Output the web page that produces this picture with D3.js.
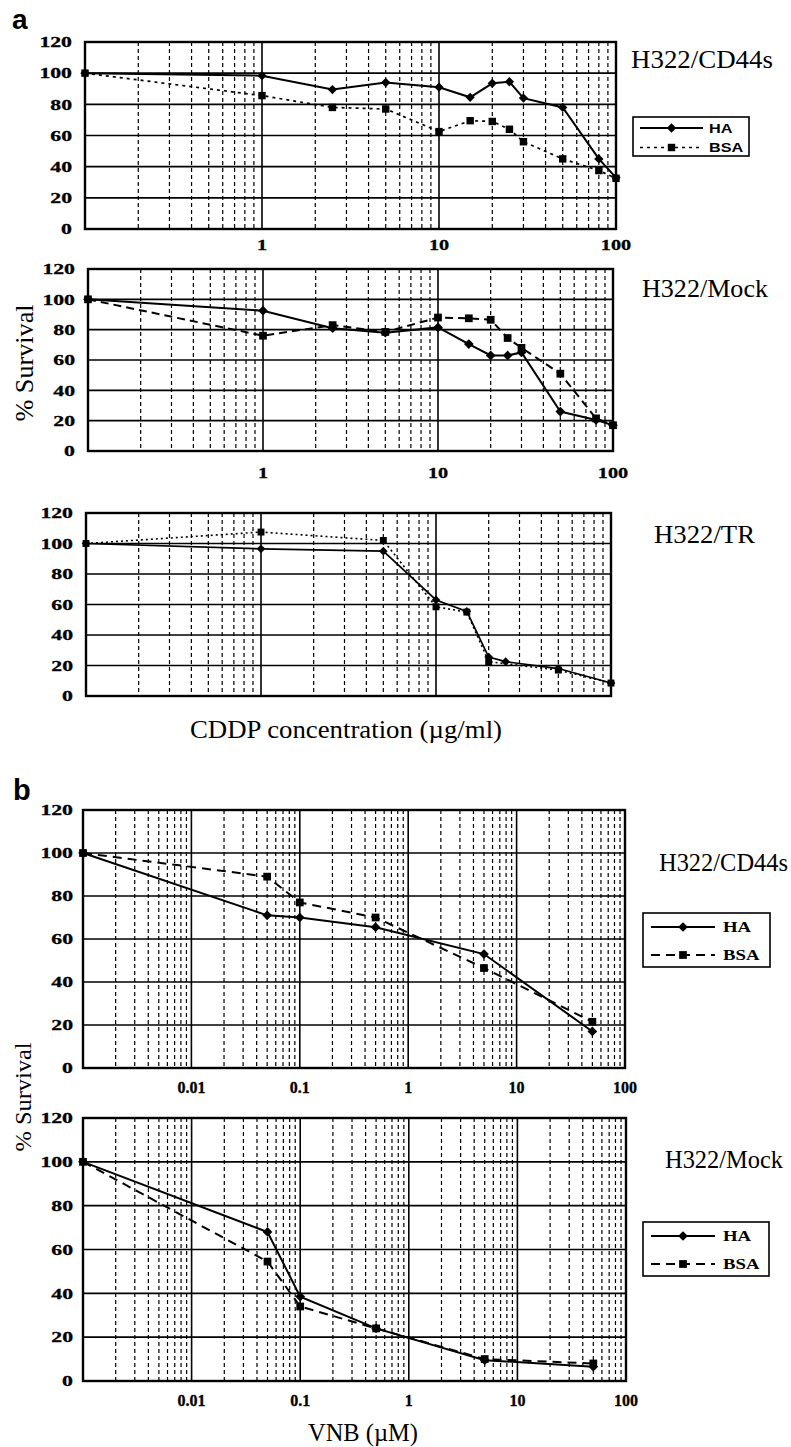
<!DOCTYPE html>
<html><head><meta charset="utf-8">
<script src="https://cdn.jsdelivr.net/npm/d3@7"></script>
<style>body{margin:0;background:#fff}svg{display:block}</style>
</head><body>
<svg id="c" width="791" height="1447"></svg>
<script>
// ---------- DATA ----------
const yTicks = [0, 20, 40, 60, 80, 100, 120];
const aXTickLabels = ["1", "10", "100"];
const bXTickLabels = ["0.01", "0.1", "1", "10", "100"];
const seriesNames = ["HA", "BSA"];

// Panel a: CDDP concentration (µg/ml)
const a1Conc = [0.1, 1, 2.5, 5, 10, 15, 20, 25, 30, 50, 80, 100];
const a1HA   = [100, 98.4, 89.5, 94, 91, 84.5, 93.5, 94.5, 84, 78, 45, 33];
const a1BSA  = [100, 85.6, 78, 77, 62.5, 69.5, 69, 64, 56, 45, 37.5, 32.5];

const a2Conc = [0.1, 1, 2.5, 5, 10, 15, 20, 25, 30, 50, 80, 100];
const a2HA   = [100, 92.5, 81, 78, 81.5, 70.5, 63, 63, 65, 26, 20.5, 17];
const a2BSA  = [100, 76, 83, 78.5, 88, 87.5, 86.5, 74.5, 68, 51, 21.5, 17];

const a3ConcHA  = [0.1, 1, 5, 10, 15, 20, 25, 50, 100];
const a3HA      = [100, 96.5, 95, 63, 55.5, 25.5, 22.5, 18, 8.5];
const a3ConcBSA = [0.1, 1, 5, 10, 15, 20, 50, 100];
const a3BSA     = [100, 107.5, 102, 58.5, 55, 22.5, 17, 8.5];

// Panel b: VNB (µM)
const bConc = [0.001, 0.05, 0.1, 0.5, 5, 50];
const b1HA  = [100, 71, 70, 65.5, 53, 17];
const b1BSA = [100, 89, 77, 70, 46.5, 21.5];
const b2HA  = [100, 68, 38.5, 24, 9.5, 6.5];
const b2BSA = [100, 54.5, 34, 24, 10, 8];

// ---------- DRAW ----------
const svg = d3.select("#c");
const SERIF = "'Liberation Serif','Times New Roman',serif";
const SANS = "'Liberation Sans',Arial,sans-serif";

function panel(p) {
  const x = d3.scaleLog().domain(p.xDomain).range([p.L, p.R]);
  const y = d3.scaleLinear().domain([0, 120]).range([p.B, p.T]);
  const g = svg.append("g");
  const d0 = Math.round(Math.log10(p.xDomain[0])), d1 = Math.round(Math.log10(p.xDomain[1]));
  const minor = [], major = [];
  for (let d = d0; d < d1; d++) {
    for (let k = 2; k <= 9; k++) minor.push(k * Math.pow(10, d));
    if (d > d0) major.push(Math.pow(10, d));
  }
  g.selectAll(".mn").data(minor).enter().append("line")
    .attr("x1", d => x(d)).attr("x2", d => x(d)).attr("y1", p.T).attr("y2", p.B)
    .attr("stroke", "#000").attr("stroke-width", 1.2).attr("stroke-dasharray", "4,3");
  g.selectAll(".mj").data(major).enter().append("line")
    .attr("x1", d => x(d)).attr("x2", d => x(d)).attr("y1", p.T).attr("y2", p.B)
    .attr("stroke", "#000").attr("stroke-width", 1.6);
  g.selectAll(".hz").data(yTicks.slice(1, -1)).enter().append("line")
    .attr("x1", p.L).attr("x2", p.R).attr("y1", d => y(d)).attr("y2", d => y(d))
    .attr("stroke", "#000").attr("stroke-width", 1.7);
  g.append("rect").attr("x", p.L).attr("y", p.T).attr("width", p.R - p.L).attr("height", p.B - p.T)
    .attr("fill", "none").attr("stroke", "#000").attr("stroke-width", 2.4);
  g.selectAll(".yl").data(yTicks).enter().append("text")
    .attr("transform", d => `translate(${p.L - p.yGap},${y(d)}) scale(1.45,1)`)
    .attr("dy", "0.35em").attr("text-anchor", "end")
    .attr("font-family", SERIF).attr("font-weight", "bold").attr("font-size", 15)
    .attr("stroke", "#000").attr("stroke-width", 0.3)
    .text(d => d);
  if (p.xLabels) {
    g.selectAll(".xl").data(p.xLabels).enter().append("text")
      .attr("transform", d => `translate(${x(+d)},${p.xLabelY}) scale(${p.xScale},1)`)
      .attr("dy", "0.35em").attr("text-anchor", "middle")
      .attr("font-family", SERIF).attr("font-weight", "bold").attr("font-size", p.xFont)
      .attr("stroke", "#000").attr("stroke-width", 0.3)
      .text(d => d);
  }
  p.series.forEach(s => {
    const pts = s.conc.map((c, i) => [c, s.vals[i]]);
    g.append("path").datum(pts)
      .attr("d", d3.line().x(d => x(d[0])).y(d => y(d[1])))
      .attr("fill", "none").attr("stroke", "#000").attr("stroke-width", s.width)
      .attr("stroke-dasharray", s.dash || null);
    g.selectAll(null).data(pts).enter().append("path")
      .attr("transform", d => `translate(${x(d[0])},${y(d[1])})`)
      .attr("d", d3.symbol().type(s.sym).size(s.size))
      .attr("fill", "#000");
  });
  svg.append("text").attr("x", p.titleX).attr("y", p.titleY)
    .attr("font-family", SERIF).attr("font-size", p.titleFont)
    .attr("textLength", p.titleW).attr("lengthAdjust", "spacingAndGlyphs")
    .text(p.title);
  if (p.legend) {
    const lg = p.legend;
    svg.append("rect").attr("x", lg.x).attr("y", lg.y).attr("width", lg.w).attr("height", lg.h)
      .attr("fill", "#fff").attr("stroke", "#000").attr("stroke-width", 1.6);
    p.series.forEach((s, i) => {
      const yy = lg.rows[i];
      svg.append("line").attr("x1", lg.l1).attr("x2", lg.l2).attr("y1", yy).attr("y2", yy)
        .attr("stroke", "#000").attr("stroke-width", s.width).attr("stroke-dasharray", s.dash || null);
      svg.append("path").attr("transform", `translate(${(lg.l1 + lg.l2) / 2},${yy})`)
        .attr("d", d3.symbol().type(s.sym).size(s.size)).attr("fill", "#000");
      svg.append("text").attr("transform", `translate(${lg.tx},${yy}) scale(${lg.sx},1)`)
        .attr("dy", "0.36em").attr("font-family", lg.font).attr("font-weight", "bold")
        .attr("font-size", lg.fs).text(seriesNames[i]);
    });
  }
}

const DIA = d3.symbolDiamond2, SQ = d3.symbolSquare;

panel({ L: 85, R: 616, T: 42, B: 229, xDomain: [0.1, 100], yGap: 13,
  xLabels: aXTickLabels, xLabelY: 245, xFont: 15, xScale: 1.35,
  title: "H322/CD44s", titleX: 631, titleY: 68, titleFont: 26, titleW: 142,
  series: [
    { conc: a1Conc, vals: a1HA, sym: DIA, size: 55, width: 2 },
    { conc: a1Conc, vals: a1BSA, sym: SQ, size: 55, width: 1.7, dash: "3,4" }],
  legend: { x: 633, y: 117, w: 116, h: 39, rows: [128, 147.5], l1: 640, l2: 703, tx: 709, sx: 1.3,
    font: SANS, fs: 12.5 } });

panel({ L: 88, R: 613, T: 269, B: 451, xDomain: [0.1, 100], yGap: 13,
  xLabels: aXTickLabels, xLabelY: 473, xFont: 15, xScale: 1.35,
  title: "H322/Mock", titleX: 642, titleY: 297, titleFont: 26, titleW: 126,
  series: [
    { conc: a2Conc, vals: a2HA, sym: DIA, size: 60, width: 2 },
    { conc: a2Conc, vals: a2BSA, sym: SQ, size: 60, width: 2, dash: "8,5" }] });

panel({ L: 86, R: 611, T: 513, B: 696, xDomain: [0.1, 100], yGap: 13,
  title: "H322/TR", titleX: 654, titleY: 543, titleFont: 26, titleW: 101,
  series: [
    { conc: a3ConcHA, vals: a3HA, sym: DIA, size: 48, width: 1.7 },
    { conc: a3ConcBSA, vals: a3BSA, sym: SQ, size: 48, width: 1.6, dash: "2,3" }] });

panel({ L: 83, R: 625, T: 810, B: 1068, xDomain: [0.001, 100], yGap: 10,
  xLabels: bXTickLabels, xLabelY: 1087, xFont: 16, xScale: 1,
  title: "H322/CD44s", titleX: 659, titleY: 871, titleFont: 25, titleW: 129,
  series: [
    { conc: bConc, vals: b1HA, sym: DIA, size: 60, width: 2 },
    { conc: bConc, vals: b1BSA, sym: SQ, size: 60, width: 2, dash: "9,6" }],
  legend: { x: 643, y: 913, w: 127, h: 54, rows: [927, 955], l1: 651, l2: 715, tx: 723, sx: 1.25,
    font: SERIF, fs: 15 } });

panel({ L: 83, R: 626, T: 1118, B: 1381, xDomain: [0.001, 100], yGap: 10,
  xLabels: bXTickLabels, xLabelY: 1400, xFont: 16, xScale: 1,
  title: "H322/Mock", titleX: 665, titleY: 1168, titleFont: 25, titleW: 118,
  series: [
    { conc: bConc, vals: b2HA, sym: DIA, size: 60, width: 2 },
    { conc: bConc, vals: b2BSA, sym: SQ, size: 60, width: 2, dash: "9,6" }],
  legend: { x: 643, y: 1222, w: 126, h: 54, rows: [1236, 1264], l1: 651, l2: 715, tx: 723, sx: 1.25,
    font: SERIF, fs: 15 } });

svg.append("text").attr("x", 12).attr("y", 29).attr("font-family", SANS).attr("font-weight", "bold")
  .attr("font-size", 28).text("a");
svg.append("text").attr("x", 13).attr("y", 800).attr("font-family", SANS).attr("font-weight", "bold")
  .attr("font-size", 29).text("b");
svg.append("text").attr("transform", "translate(33,363) rotate(-90)").attr("text-anchor", "middle")
  .attr("font-family", SERIF).attr("font-size", 26).attr("textLength", 117).attr("lengthAdjust", "spacingAndGlyphs")
  .text("% Survival");
svg.append("text").attr("transform", "translate(31,1097) rotate(-90)").attr("text-anchor", "middle")
  .attr("font-family", SERIF).attr("font-size", 24).attr("textLength", 109).attr("lengthAdjust", "spacingAndGlyphs")
  .text("% Survival");
svg.append("text").attr("x", 190).attr("y", 738).attr("font-family", SERIF).attr("font-size", 26)
  .attr("textLength", 312).attr("lengthAdjust", "spacingAndGlyphs").text("CDDP concentration (µg/ml)");
svg.append("text").attr("x", 308).attr("y", 1441).attr("font-family", SERIF).attr("font-size", 25)
  .attr("textLength", 110).attr("lengthAdjust", "spacingAndGlyphs").text("VNB (µM)");
</script>
</body></html>
